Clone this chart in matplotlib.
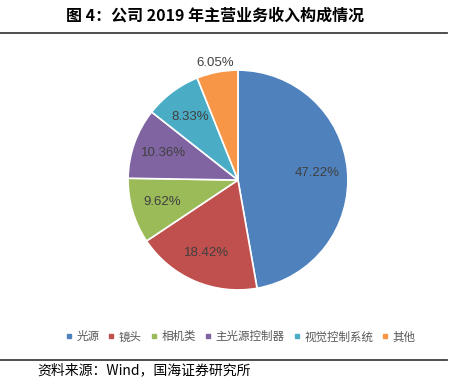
import matplotlib
matplotlib.use('Agg')
import matplotlib.pyplot as plt
from matplotlib.lines import Line2D

plt.rcParams['font.family'] = ['Noto Sans CJK SC', 'DejaVu Sans']

# data
labels = ['光源', '镜头', '相机类', '主光源控制器', '视觉控制系统', '其他']
shares = [47.22, 18.42, 9.62, 10.36, 8.33, 6.05]
colors = ['#4F81BD', '#C0504D', '#9BBB59', '#8064A2', '#4BACC6', '#F79646']
title = '图 4：公司 2019 年主营业务收入构成情况'
source = '资料来源：Wind，国海证券研究所'

fig = plt.figure(figsize=(4.61, 3.79), dpi=100)

# pie
ax = fig.add_axes([0.2777, 0.235, 0.477, 0.580])
wedges, texts, autotexts = ax.pie(shares, colors=colors, startangle=90, counterclock=False,
                                  autopct='%.2f%%', pctdistance=0.72,
                                  wedgeprops=dict(edgecolor='white', linewidth=1.2),
                                  textprops=dict(color='#404040', fontsize=9.5,
                                                 family=['Liberation Sans', 'DejaVu Sans']))
ax.set_aspect('equal')
ax.set_xlim(-1.0, 1.0)
ax.set_ylim(-1.0, 1.0)
# last small slice label sits outside
x, y = autotexts[-1].get_position()
autotexts[-1].set_position((x * 1.5, y * 1.5))

# legend
handles = [Line2D([0], [0], marker='s', linestyle='', markersize=3.5, color=c) for c in colors]
fig.legend(handles, labels, loc='center', bbox_to_anchor=(0.522, 0.111), ncol=6, frameon=False,
           fontsize=8.3, handlelength=0.6, handletextpad=0.35, columnspacing=0.75,
           labelcolor='#595959')

# title, rules, source
fig.text(0.467, 0.958, title, ha='center', va='center', fontsize=11.5, fontweight='bold', color='black')
fig.add_artist(Line2D([0, 0.97], [0.912, 0.912], color='#404040', linewidth=1.3))
fig.add_artist(Line2D([0, 0.97], [0.05, 0.05], color='#404040', linewidth=1.3))
fig.text(0.082, 0.022, source, ha='left', va='center', fontsize=10, color='black')

fig.savefig('out.png', dpi=100, facecolor='white')
